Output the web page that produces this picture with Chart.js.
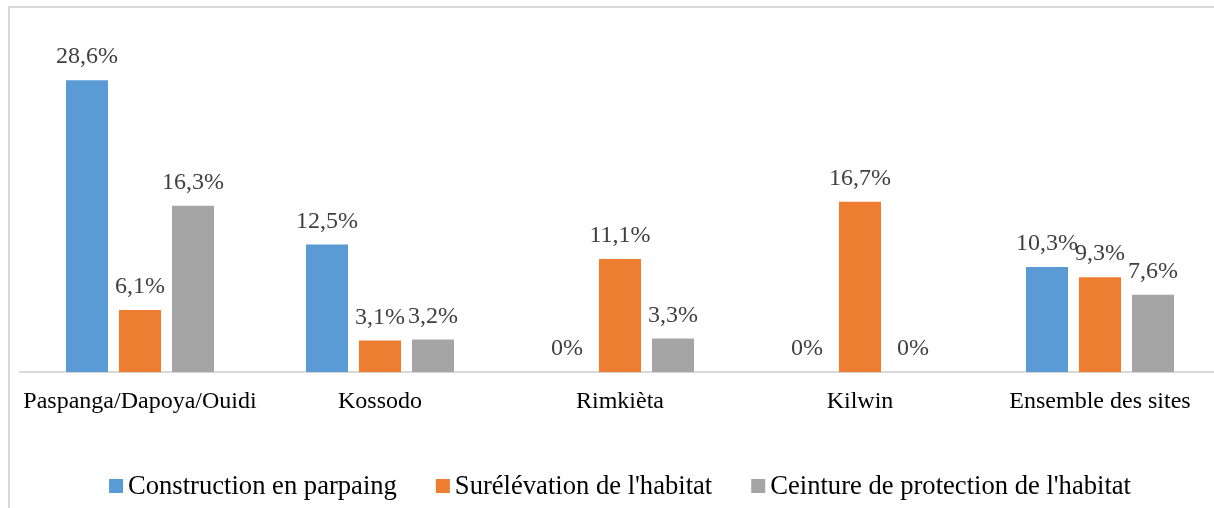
<!DOCTYPE html>
<html>
<head>
<meta charset="utf-8">
<script src="https://cdn.jsdelivr.net/npm/chart.js@4/dist/chart.umd.min.js"></script>
<style>
  html, body { margin: 0; padding: 0; background: #fff; overflow: hidden; width: 1214px; height: 508px; }
  #frame { position: absolute; left: 8px; top: 6px; width: 1300px; height: 600px; border: 2px solid #d9d9d9; box-sizing: border-box; }
  #wrap { position: absolute; left: 0; top: 0; }
</style>
</head>
<body>
<div id="frame"></div>
<div id="wrap"><canvas id="c" width="1240" height="508"></canvas></div>
<script>
const categories = ["Paspanga/Dapoya/Ouidi", "Kossodo", "Rimkièta", "Kilwin", "Ensemble des sites"];
const seriesNames = ["Construction en parpaing", "Surélévation de l'habitat", "Ceinture de protection de l'habitat"];
const construction = [28.6, 12.5, 0, 0, 10.3];
const surelevation = [6.1, 3.1, 11.1, 16.7, 9.3];
const ceinture = [16.3, 3.2, 3.3, 0, 7.6];
const colors = ["#5B9BD5", "#ED7D31", "#A5A5A5"];

const FONT = "'Liberation Serif', 'Times New Roman', serif";

const dataLabels = {
  id: 'dataLabels',
  afterDatasetsDraw(chart) {
    const ctx = chart.ctx;
    ctx.save();
    ctx.font = "24px " + FONT;
    ctx.fillStyle = "#404040";
    ctx.textAlign = "center";
    ctx.textBaseline = "alphabetic";
    chart.data.datasets.forEach((ds, i) => {
      const meta = chart.getDatasetMeta(i);
      meta.data.forEach((bar, j) => {
        const v = ds.data[j];
        const txt = String(v).replace('.', ',') + '%';
        ctx.fillText(txt, bar.x, bar.y - 17);
      });
    });
    ctx.restore();
  }
};

const customLegend = {
  id: 'customLegend',
  afterDraw(chart) {
    const ctx = chart.ctx;
    ctx.save();
    ctx.font = "26.6px " + FONT;
    const box = 14, gapBT = 5, gapItem = 39;
    const widths = chart.data.datasets.map(d => ctx.measureText(d.label).width);
    let total = widths.reduce((a, b) => a + b, 0) + 3 * (box + gapBT) + 2 * gapItem;
    const ca = chart.chartArea;
    let x = (ca.left + ca.right) / 2 - total / 2;
    const yc = 486;
    ctx.textBaseline = "middle";
    ctx.textAlign = "left";
    chart.data.datasets.forEach((d, i) => {
      ctx.fillStyle = d.backgroundColor;
      ctx.fillRect(x, yc - box / 2, box, box);
      x += box + gapBT;
      ctx.fillStyle = "#000";
      ctx.fillText(d.label, x, yc + 1);
      x += widths[i] + gapItem;
    });
    ctx.restore();
  }
};

new Chart(document.getElementById('c'), {
  type: 'bar',
  data: {
    labels: categories,
    datasets: [
      { label: seriesNames[0], data: construction, backgroundColor: colors[0] },
      { label: seriesNames[1], data: surelevation, backgroundColor: colors[1] },
      { label: seriesNames[2], data: ceinture, backgroundColor: colors[2] }
    ]
  },
  options: {
    responsive: false,
    animation: false,
    layout: { padding: { left: 20, right: 20, top: 66, bottom: 77 } },
    datasets: { bar: { categoryPercentage: 0.6625, barPercentage: 0.7925 } },
    plugins: { legend: { display: false }, tooltip: { enabled: false } },
    scales: {
      y: { display: false, min: 0, max: 30 },
      x: {
        grid: { display: false, drawTicks: false },
        border: { display: true, color: '#d9d9d9', width: 2 },
        ticks: { color: '#000', font: { family: FONT, size: 24 }, padding: 15, maxRotation: 0, autoSkip: false }
      }
    }
  },
  plugins: [dataLabels, customLegend]
});
</script>
</body>
</html>
